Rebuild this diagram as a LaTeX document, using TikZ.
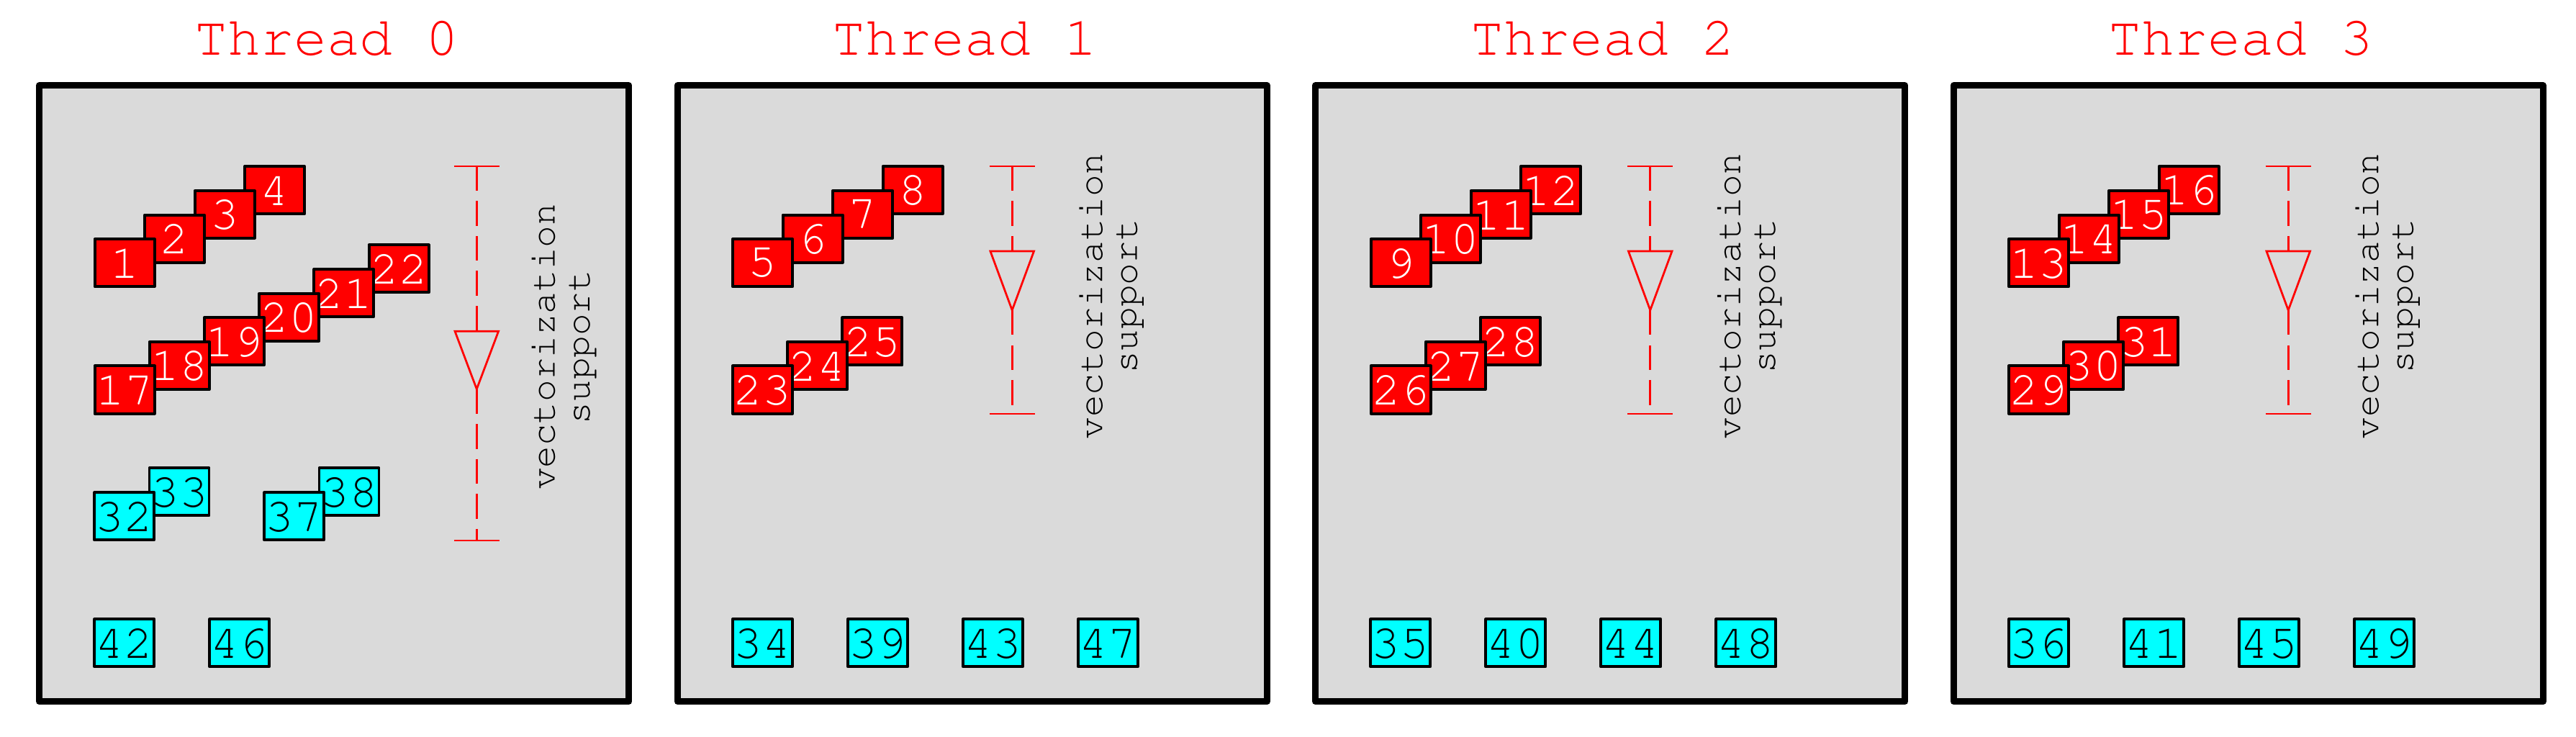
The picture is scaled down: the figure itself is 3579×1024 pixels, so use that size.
\documentclass[tikz,border=0pt]{standalone}
\usepackage[T1]{fontenc}
\newcommand\courfont{\fontfamily{pcr}\selectfont}
\definecolor{panelgray}{RGB}{218,218,218}
\definecolor{boxred}{RGB}{255,0,0}
\definecolor{boxcyan}{RGB}{0,255,255}
\tikzset{
  panel/.style={draw=black, line width=1.8pt, fill=panelgray, line join=round},
  rbox/.style={draw=black, line width=0.8pt, fill=boxred, text=white,
    minimum width=16.6pt, minimum height=13.2pt, inner sep=0pt,
    font=\fontsize{13.3}{13.3}\courfont, line join=round},
  cbox/.style={rbox, fill=boxcyan, text=black, line width=0.75pt},
  titletext/.style={text=boxred, font=\fontsize{15.3}{15.3}\courfont, anchor=base, inner sep=0pt},
  vlabel/.style={rotate=90, align=center, font=\fontsize{10.2}{9.66}\courfont, inner sep=0pt},
  vbar/.style={boxred, line width=0.55pt},
  vdash/.style={boxred, line width=0.55pt, dash pattern=on 6.9pt off 2.8pt},
}
\begin{document}
\begin{tikzpicture}[x=0.2pt,y=-0.2pt]
\useasboundingbox (0,0) rectangle (3579,1024);
% panels and titles
\foreach \k in {0,1,2,3}{
  \path[panel] ({54.5+886.5*\k},118.8) rectangle ({873.8+886.5*\k},974.8);
  \node[titletext] (title\k) at ({454+886.5*\k},76.7) {Thread \k};
}
% first red row (4 boxes per thread), earlier numbers on top
\foreach \k in {0,1,2,3}{
  \foreach \i in {3,2,1,0}{
    \pgfmathtruncatemacro\n{4*\k+\i+1}
    \node[rbox] (b\n) at ({173+69.5*\i+886.5*\k},{365.3-33.7*\i}) {\n};
  }
}
% second red row
\foreach \n/\i/\k in {22/5/0,21/4/0,20/3/0,19/2/0,18/1/0,17/0/0,
                     25/2/1,24/1/1,23/0/1,
                     28/2/2,27/1/2,26/0/2,
                     31/2/3,30/1/3,29/0/3}{
  \node[rbox] (b\n) at ({173+76.2*\i+886.5*\k},{541.5-33.6*\i}) {\n};
}
% cyan pairs in thread 0
\node[cbox] (b33) at (249.1,683.3) {33};
\node[cbox] (b32) at (172.8,717.3) {32};
\node[cbox] (b38) at (485.1,683.3) {38};
\node[cbox] (b37) at (408.8,717.3) {37};
% cyan bottom row
\foreach \n/\j/\k in {42/0/0,46/1/0,
                     34/0/1,39/1/1,43/2/1,47/3/1,
                     35/0/2,40/1/2,44/2/2,48/3/2,
                     36/0/3,41/1/3,45/2/3,49/3/3}{
  \node[cbox] (b\n) at ({172.8+160*\j+886.5*\k},893.3) {\n};
}
% vectorization bars
\foreach \k/\x/\ytop/\ybot/\ta/\tb/\lx/\ly in {
    0/662.3/231/751/460.2/540.6/782.5/482,
    1/1406.2/231/575/349/431/1543.1/411.5,
    2/2292.7/231/575/349/431/2429.6/411.5,
    3/3179.2/231/575/349/431/3316.1/411.5}{
  \coordinate (top\k) at (\x,\ytop);
  \coordinate (bot\k) at (\x,\ybot);
  \coordinate (tb\k) at (\x,\ta);
  \coordinate (tp\k) at (\x,\tb);
  \draw[vbar] ([xshift=-6.3pt]top\k) -- ([xshift=6.3pt]top\k);
  \draw[vbar] ([xshift=-6.3pt]bot\k) -- ([xshift=6.3pt]bot\k);
  \draw[vdash] (top\k) -- (tb\k);
  \draw[vdash] (tp\k) -- (bot\k);
  \draw[vbar, line join=miter] ([xshift=-6.06pt]tb\k) -- ([xshift=6.06pt]tb\k) -- (tp\k) -- cycle;
  \node[vlabel] (vl\k) at (\lx,\ly) {vectorization\\support};
}
\end{tikzpicture}
\end{document}
